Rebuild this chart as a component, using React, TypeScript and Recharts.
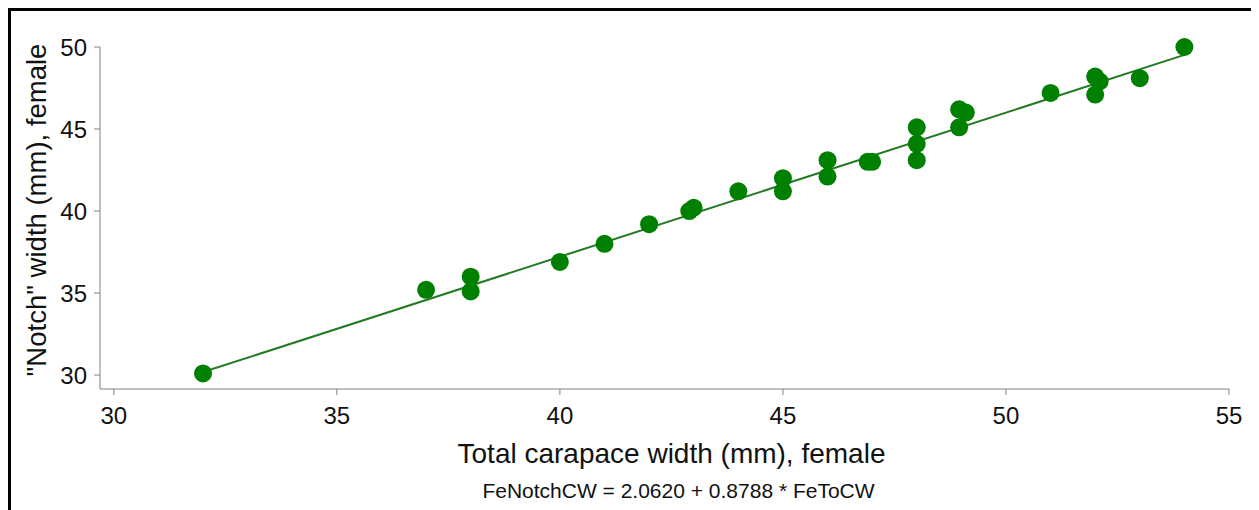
import React from "react";
import { ScatterChart, Scatter, XAxis, YAxis, Label } from "recharts";

// total carapace width vs "notch" width, females (mm)
const femaleCW = [
  32, 37, 38, 38, 40, 41, 42, 42.9, 43, 44, 45, 45, 46, 46, 46.9, 47, 48, 48,
  48, 48.95, 49.1, 48.95, 51, 52, 52.1, 52, 53, 54,
];
const femaleNotch = [
  30.1, 35.2, 36.0, 35.1, 36.9, 38.0, 39.2, 40.0, 40.2, 41.2, 42.0, 41.2, 43.1,
  42.1, 43.0, 43.0, 45.1, 44.1, 43.1, 46.2, 46.0, 45.1, 47.2, 48.2, 47.9, 47.1,
  48.1, 50.0,
];

const xTicks = [30, 35, 40, 45, 50, 55];
const yTicks = [30, 35, 40, 45, 50];

// fitted line from the caption
const intercept = 2.062;
const slope = 0.8788;
const fitRange = [32, 54];

const points = femaleCW.map((x, i) => ({ x, y: femaleNotch[i] }));
const fitLine = fitRange.map((x) => ({ x, y: intercept + slope * x }));

const font = "'Liberation Sans', Arial, sans-serif";
const axisGrey = "#808080";

const XTitles = ({ viewBox }: any) => {
  const cx = viewBox.x + viewBox.width / 2;
  return (
    <g>
      <text x={cx + 7} y={viewBox.y + 64} textAnchor="middle" dominantBaseline="central" fontSize={28} fill="#111" fontFamily={font}>
        Total carapace width (mm), female
      </text>
      <text x={cx + 14} y={viewBox.y + 101} textAnchor="middle" dominantBaseline="central" fontSize={21} fill="#111" fontFamily={font}>
        FeNotchCW = 2.0620 + 0.8788 * FeToCW
      </text>
    </g>
  );
};

const YTitle = ({ viewBox }: any) => {
  const cx = 25;
  const cy = viewBox.y + viewBox.height / 2 - 8;
  return (
    <text x={cx} y={cy} transform={`rotate(-90, ${cx}, ${cy})`} textAnchor="middle" dominantBaseline="central" fontSize={27.5} fill="#111" fontFamily={font}>
      "Notch" width (mm), female
    </text>
  );
};

const Dot = (props: any) => <circle cx={props.cx} cy={props.cy} r={9} fill="#008000" />;

export default function App() {
  return (
    <div style={{ width: 1251, height: 520, border: "3px solid #000", boxSizing: "border-box", background: "#fff" }}>
      <ScatterChart width={1245} height={506} margin={{ top: 36, right: 27, left: 0, bottom: 0 }}>
        <XAxis
          type="number"
          dataKey="x"
          domain={[29.69, 55]}
          ticks={xTicks}
          height={128}
          tickSize={6}
          tickMargin={12}
          stroke={axisGrey}
          tick={{ fontSize: 24, fill: "#111", fontFamily: font }}
        >
          <Label content={<XTitles />} />
        </XAxis>
        <YAxis
          type="number"
          dataKey="y"
          domain={[29.15, 50]}
          ticks={yTicks}
          width={89}
          tickSize={6}
          tickMargin={7}
          stroke={axisGrey}
          tick={{ fontSize: 24, fill: "#111", fontFamily: font }}
        >
          <Label content={<YTitle />} />
        </YAxis>
        <Scatter
          data={fitLine}
          line={{ stroke: "#237a23", strokeWidth: 2 }}
          shape={() => <g />}
          isAnimationActive={false}
        />
        <Scatter data={points} shape={<Dot />} isAnimationActive={false} />
      </ScatterChart>
    </div>
  );
}
